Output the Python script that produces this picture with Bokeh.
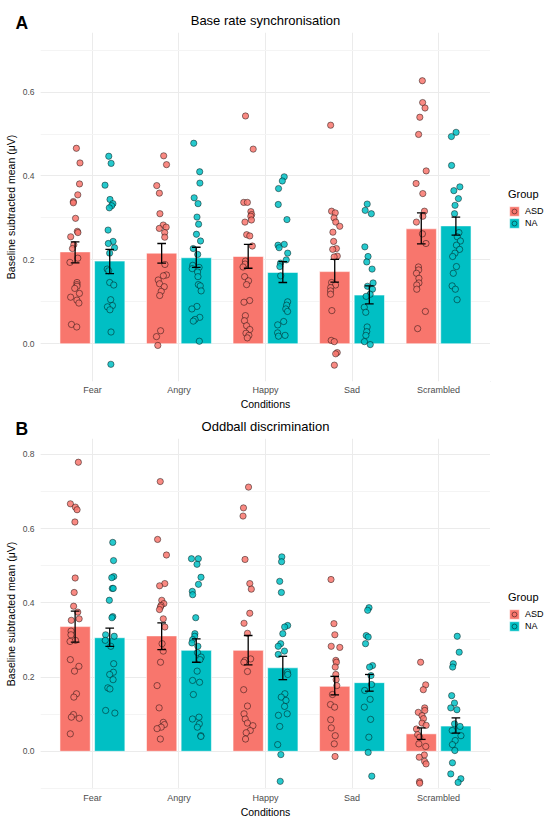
from bokeh.plotting import figure
from bokeh.models import (ColumnDataSource, FactorRange, Range1d, Legend, LegendItem, Label,
                          SingleIntervalTicker, PrintfTickFormatter)
from bokeh.transform import dodge, jitter
from bokeh.layouts import column, row
from bokeh.embed import file_html
from bokeh.resources import INLINE

# ---------------- data ----------------
conditions = ["Fear", "Angry", "Happy", "Sad", "Scrambled"]
groups = ["ASD", "NA"]

# Panel A: Base rate synchronisation (bar = mean, error bar = mean +/- SE)
a_mean_asd = [0.219, 0.216, 0.208, 0.172, 0.274]
a_mean_na = [0.197, 0.205, 0.170, 0.116, 0.281]
a_upper_asd = [0.243, 0.239, 0.237, 0.201, 0.312]
a_lower_asd = [0.193, 0.192, 0.180, 0.147, 0.238]
a_upper_na = [0.225, 0.230, 0.196, 0.138, 0.302]
a_lower_na = [0.167, 0.182, 0.146, 0.095, 0.259]

a_fear_asd = [0.466, 0.431, 0.381, 0.355, 0.339, 0.336, 0.299, 0.268, 0.265, 0.255, 0.236, 0.227,
              0.204, 0.194, 0.146, 0.141, 0.137, 0.132, 0.120, 0.111, 0.104, 0.097, 0.046, 0.040]
a_angry_asd = [0.448, 0.427, 0.377, 0.359, 0.310, 0.283, 0.278, 0.275, 0.265, 0.254, 0.189, 0.164,
               0.162, 0.152, 0.143, 0.136, 0.125, 0.115, 0.031, 0.017, -0.004]
a_happy_asd = [0.543, 0.464, 0.337, 0.337, 0.315, 0.308, 0.304, 0.295, 0.290, 0.260, 0.257, 0.233,
               0.197, 0.190, 0.183, 0.160, 0.150, 0.141, 0.103, 0.099, 0.067, 0.055, 0.043, 0.034,
               0.025, 0.020, 0.014]
a_sad_asd = [0.521, 0.316, 0.312, 0.300, 0.290, 0.280, 0.266, 0.244, 0.227, 0.225, 0.209, 0.207,
             0.146, 0.140, 0.134, 0.126, 0.118, 0.079, 0.008, 0.005, -0.021, -0.024, -0.051]
a_scrambled_asd = [0.627, 0.575, 0.562, 0.540, 0.499, 0.412, 0.382, 0.358, 0.316, 0.304, 0.290,
                   0.262, 0.239, 0.183, 0.176, 0.168, 0.156, 0.145, 0.140, 0.130, 0.077, 0.036]

a_fear_na = [0.447, 0.430, 0.378, 0.344, 0.334, 0.329, 0.324, 0.271, 0.244, 0.239, 0.229, 0.216,
             0.178, 0.174, 0.146, 0.140, 0.105, 0.091, 0.088, 0.081, 0.028, -0.049]
a_angry_na = [0.478, 0.410, 0.383, 0.348, 0.334, 0.302, 0.285, 0.261, 0.245, 0.227, 0.213, 0.187,
              0.182, 0.179, 0.171, 0.160, 0.141, 0.138, 0.126, 0.089, 0.083, 0.063, 0.058, 0.054, 0.006]
a_happy_na = [0.398, 0.388, 0.370, 0.332, 0.296, 0.237, 0.235, 0.229, 0.216, 0.200, 0.192, 0.184,
              0.162, 0.100, 0.092, 0.083, 0.077, 0.053, 0.045, 0.026, 0.020, 0.018]
a_sad_na = [0.333, 0.318, 0.310, 0.231, 0.208, 0.195, 0.178, 0.145, 0.137, 0.130, 0.118, 0.113,
            0.087, 0.075, 0.040, 0.029, 0.020, 0.005, -0.002]
a_scrambled_na = [0.504, 0.494, 0.425, 0.374, 0.365, 0.346, 0.330, 0.310, 0.265, 0.255, 0.245,
                  0.235, 0.225, 0.216, 0.208, 0.184, 0.168, 0.138, 0.130, 0.105]

# Panel B: Oddball discrimination
b_mean_asd = [0.336, 0.311, 0.272, 0.175, 0.047]
b_mean_na = [0.306, 0.272, 0.225, 0.185, 0.068]
b_upper_asd = [0.378, 0.346, 0.312, 0.202, 0.063]
b_lower_asd = [0.294, 0.274, 0.233, 0.152, 0.032]
b_upper_na = [0.332, 0.303, 0.256, 0.207, 0.090]
b_lower_na = [0.283, 0.240, 0.193, 0.162, 0.049]

b_fear_asd = [0.779, 0.667, 0.658, 0.651, 0.618, 0.467, 0.428, 0.391, 0.375, 0.357, 0.353, 0.324,
              0.314, 0.299, 0.296, 0.247, 0.229, 0.216, 0.155, 0.146, 0.099, 0.092, 0.089, 0.047]
b_angry_asd = [0.727, 0.571, 0.529, 0.452, 0.446, 0.407, 0.398, 0.393, 0.389, 0.382, 0.357, 0.335,
               0.290, 0.270, 0.240, 0.177, 0.117, 0.078, 0.072, 0.065, 0.061, 0.033]
b_happy_asd = [0.712, 0.656, 0.634, 0.517, 0.452, 0.437, 0.372, 0.345, 0.318, 0.249, 0.245, 0.240,
               0.215, 0.166, 0.122, 0.101, 0.087, 0.076, 0.069, 0.056, 0.050, 0.033]
b_sad_asd = [0.463, 0.344, 0.314, 0.283, 0.280, 0.245, 0.240, 0.227, 0.207, 0.193, 0.177, 0.153,
             0.126, 0.119, 0.085, 0.063, 0.042, 0.020, -0.014]
b_scrambled_asd = [0.240, 0.179, 0.166, 0.117, 0.110, 0.105, 0.096, 0.088, 0.076, 0.070, 0.060,
                   0.045, 0.038, 0.020, 0.013, -0.010, -0.016, -0.027, -0.034, -0.082, -0.086]

b_fear_na = [0.563, 0.514, 0.471, 0.468, 0.439, 0.439, 0.407, 0.363, 0.360, 0.314, 0.310, 0.299,
             0.283, 0.236, 0.213, 0.207, 0.193, 0.171, 0.168, 0.110, 0.103]
b_angry_na = [0.519, 0.519, 0.504, 0.469, 0.450, 0.431, 0.422, 0.360, 0.317, 0.310, 0.301, 0.292,
              0.283, 0.266, 0.254, 0.247, 0.216, 0.191, 0.186, 0.153, 0.092, 0.087, 0.074, 0.065,
              0.042, 0.040]
b_happy_na = [0.524, 0.511, 0.458, 0.428, 0.339, 0.335, 0.317, 0.290, 0.283, 0.270, 0.261, 0.213,
              0.207, 0.155, 0.146, 0.137, 0.121, 0.101, 0.097, 0.067, 0.018, -0.009, -0.081]
b_sad_na = [0.387, 0.380, 0.312, 0.308, 0.290, 0.231, 0.227, 0.204, 0.180, 0.164, 0.140, 0.119,
            0.086, 0.038, -0.003, -0.067]
b_scrambled_na = [0.310, 0.267, 0.236, 0.227, 0.150, 0.130, 0.117, 0.112, 0.074, 0.067, 0.056,
                  0.042, 0.029, 0.018, 0.002, -0.031, -0.061, -0.074, -0.084]

# ---------------- styling ----------------
FONT = "Liberation Sans"
COLORS = {"ASD": "#F8766D", "NA": "#00BFC4"}
DODGE = {"ASD": -0.2, "NA": 0.2}
BAR_W = 0.35
CAP = 0.05
PAGE_W = 550
PLOT_W = 490
LEG_W = 60
LEFT = 40

BAR_STYLE = dict(line_color="white", line_alpha=0.55, line_width=1)
PT_STYLE = dict(size=6.3, fill_alpha=0.85, line_color="black", line_alpha=0.75, line_width=0.6)


def bare_figure(width, height):
    f = figure(width=width, height=height, x_range=Range1d(0, 1), y_range=Range1d(0, 1),
               output_backend="svg", toolbar_location=None,
               x_axis_type=None, y_axis_type=None,
               min_border_left=0, min_border_right=0, min_border_top=0, min_border_bottom=0)
    f.outline_line_color = None
    f.grid.visible = False
    f.background_fill_color = "white"
    f.border_fill_color = "white"
    return f


def make_header(letter, title, height, title_from_top, letter_baseline_from_top):
    h = bare_figure(PAGE_W, height)
    h.add_layout(Label(x=LEFT + (PLOT_W - LEFT) / 2, y=height - title_from_top,
                       x_units="screen", y_units="screen", text=title,
                       text_align="center", text_baseline="middle",
                       text_font=FONT, text_font_size="13px", text_color="black"))
    h.add_layout(Label(x=15, y=height - letter_baseline_from_top,
                       x_units="screen", y_units="screen", text=letter,
                       text_align="left", text_baseline="alphabetic",
                       text_font=FONT, text_font_size="17.5px", text_font_style="bold",
                       text_color="black"))
    return h


def make_panel(means, uppers, lowers, points, y_lo, y_hi, height, bottom):
    p = figure(width=PLOT_W, height=height,
               x_range=FactorRange(factors=conditions, range_padding=0.1,
                                   range_padding_units="absolute"),
               y_range=Range1d(y_lo, y_hi),
               output_backend="svg", toolbar_location=None,
               min_border_left=LEFT, min_border_right=0,
               min_border_top=0, min_border_bottom=bottom)
    p.outline_line_color = None
    p.background_fill_color = "white"
    p.border_fill_color = "white"

    ticker = SingleIntervalTicker(interval=0.2, num_minor_ticks=2)
    p.yaxis.ticker = ticker
    p.ygrid.ticker = ticker
    p.yaxis.formatter = PrintfTickFormatter(format="%.1f")

    for ax in (p.xaxis[0], p.yaxis[0]):
        ax.axis_line_color = None
        ax.major_tick_line_color = None
        ax.minor_tick_line_color = None
        ax.major_tick_out = 0
        ax.minor_tick_out = 0
        ax.major_label_text_font = FONT
        ax.major_label_text_color = "#4D4D4D"
        ax.axis_label_text_font = FONT
        ax.axis_label_text_font_size = "10.5px"
        ax.axis_label_text_font_style = "normal"
        ax.axis_label_text_color = "black"
    p.xaxis.major_label_text_font_size = "9px"
    p.yaxis.major_label_text_font_size = "8.5px"
    p.xaxis.axis_label = "Conditions"
    p.yaxis.axis_label = "Baseline subtracted mean (\u03bcV)"
    p.xaxis.major_label_standoff = 3
    p.xaxis.axis_label_standoff = 0
    p.yaxis.major_label_standoff = 6
    p.yaxis.axis_label_standoff = 3

    p.xgrid.grid_line_color = "#EBEBEB"
    p.ygrid.grid_line_color = "#EBEBEB"
    p.ygrid.minor_grid_line_color = "#F4F4F4"

    for g in groups:
        src = ColumnDataSource(dict(cond=conditions, mean=means[g],
                                    upper=uppers[g], lower=lowers[g]))
        off = DODGE[g]
        p.vbar(x=dodge("cond", off, range=p.x_range), top="mean", bottom=0,
               width=BAR_W, source=src, fill_color=COLORS[g], **BAR_STYLE)
        xs, ys = [], []
        for c, vals in zip(conditions, points[g]):
            for v in vals:
                xs.append((c, off))
                ys.append(v)
        psrc = ColumnDataSource(dict(x=xs, y=ys))
        p.scatter(x=jitter("x", width=0.12, range=p.x_range), y="y", source=psrc,
                  fill_color=COLORS[g], **PT_STYLE)
        p.segment(x0=dodge("cond", off, range=p.x_range), y0="lower",
                  x1=dodge("cond", off, range=p.x_range), y1="upper",
                  source=src, line_color="black", line_width=1.3)
        for end in ("upper", "lower"):
            p.segment(x0=dodge("cond", off - CAP, range=p.x_range), y0=end,
                      x1=dodge("cond", off + CAP, range=p.x_range), y1=end,
                      source=src, line_color="black", line_width=1.3)
    return p


def make_legend(height, legend_y):
    lf = bare_figure(LEG_W, height)
    items = []
    for g in groups:
        # legend-key renderers only: their single point lies outside this figure's range
        key = ColumnDataSource(dict(x=[-1.0], y=[-1.0]))
        bar = lf.vbar(x="x", top="y", width=0.1, source=key, fill_color=COLORS[g],
                      **BAR_STYLE)
        pts = lf.scatter(x="x", y="y", source=key, fill_color=COLORS[g], **PT_STYLE)
        items.append(LegendItem(label=g, renderers=[bar, pts]))
    legend = Legend(items=items, title="Group", location=(18, legend_y),
                    title_text_font=FONT, title_text_font_size="11px",
                    title_text_font_style="normal", title_text_color="black",
                    label_text_font=FONT, label_text_font_size="9px",
                    label_text_color="black",
                    glyph_width=12, glyph_height=12, spacing=0, padding=0, margin=0,
                    label_standoff=5, title_standoff=5, label_height=12,
                    border_line_color=None, background_fill_alpha=0)
    lf.add_layout(legend)
    return lf


ha = make_header("A", "Base rate synchronisation", 32, 20, 22.7)
pa = make_panel({"ASD": a_mean_asd, "NA": a_mean_na},
                {"ASD": a_upper_asd, "NA": a_upper_na},
                {"ASD": a_lower_asd, "NA": a_lower_na},
                {"ASD": [a_fear_asd, a_angry_asd, a_happy_asd, a_sad_asd, a_scrambled_asd],
                 "NA": [a_fear_na, a_angry_na, a_happy_na, a_sad_na, a_scrambled_na]},
                -0.09, 0.742, 380, 29)
la = make_legend(380, 152)

hb = make_header("B", "Oddball discrimination", 26, 14, 16.3)
pb = make_panel({"ASD": b_mean_asd, "NA": b_mean_na},
                {"ASD": b_upper_asd, "NA": b_upper_na},
                {"ASD": b_lower_asd, "NA": b_lower_na},
                {"ASD": [b_fear_asd, b_angry_asd, b_happy_asd, b_sad_asd, b_scrambled_asd],
                 "NA": [b_fear_na, b_angry_na, b_happy_na, b_sad_na, b_scrambled_na]},
                -0.103, 0.843, 385, 34)
lb = make_legend(385, 157)

layout = column(ha, row(pa, la, spacing=0), hb, row(pb, lb, spacing=0), spacing=0)
open("out.html", "w").write(file_html(layout, INLINE))
